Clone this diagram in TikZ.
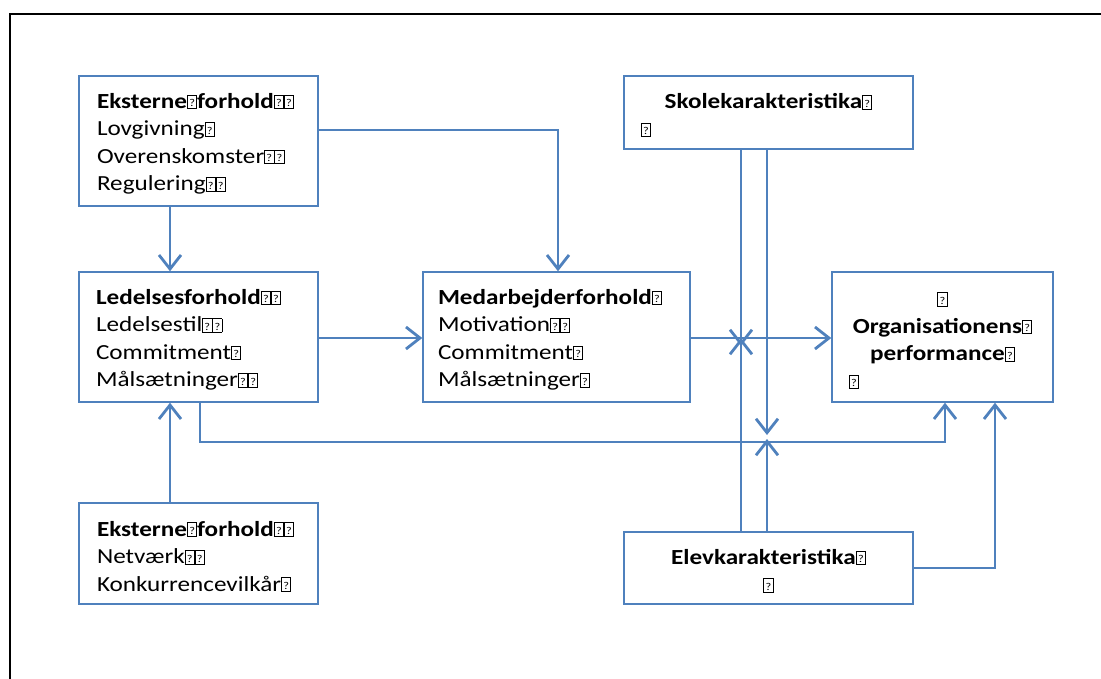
\documentclass[tikz,border=0pt]{standalone}
\usepackage{fontspec}
\setmainfont{Carlito}[FakeStretch=1.17]
\usetikzlibrary{arrows.meta}
\definecolor{boxblue}{HTML}{4F81BD}
\newcommand\qq{{\setlength\fboxsep{0pt}\setlength\fboxrule{0.8pt}\fbox{\makebox[8.5pt]{\rule{0pt}{13pt}\raisebox{1.5pt}{\fontsize{10.5}{10}\selectfont\mdseries ?}}}}}
\newcommand\tp{\rule{0pt}{21pt}}
\begin{document}
\begin{tikzpicture}[x=1pt,y=-1pt,
  box/.style={draw=boxblue,line width=1.5pt,fill=white,inner ysep=0pt,
    font=\fontsize{21.5}{27.5}\selectfont,align=left},
  arr/.style={draw=boxblue,line width=2.8pt,-{Straight Barb[length=14pt,width=22pt]}}]
\useasboundingbox (0,0) rectangle (1101,679);
\fill[white] (0,0) rectangle (1101,679);
\draw[line width=2.2pt] (10,700) -- (10,14) -- (1120,14);

\node[box,minimum width=239pt,minimum height=130pt,inner xsep=18pt,text width=203pt] (E1) at (198.5,141)
 {\tp\textbf{Eksterne\qq forhold\qq\qq}\\Lovgivning\qq\\Overenskomster\qq\qq\\Regulering\qq\qq};
\node[box,minimum width=239pt,minimum height=130pt,inner xsep=17pt,text width=205pt] (L) at (198.5,337)
 {\tp\textbf{Ledelsesforhold\qq\qq}\\Ledelsestil\qq\qq\\Commitment\qq\\Målsætninger\qq\qq};
\node[box,minimum width=267pt,minimum height=130pt,inner xsep=15pt,text width=237pt] (M) at (556.5,337)
 {\tp\textbf{Medarbejderforhold\qq}\\Motivation\qq\qq\\Commitment\qq\\Målsætninger\qq};
\node[box,minimum width=289pt,minimum height=73pt,inner xsep=17pt,text width=255pt] (S) at (768.5,112.5)
 {\tp\hspace*{\fill}\textbf{Skolekarakteristika\qq}\hspace*{\fill}\null\\\qq};
\node[box,minimum width=221pt,minimum height=130pt,inner xsep=17pt,text width=187pt] (O) at (942.5,337)
 {\tp\hspace*{\fill}\qq\hspace*{\fill}\null\\\hspace*{\fill}\textbf{Organisationens\qq}\hspace*{\fill}\null\\\hspace*{\fill}\textbf{performance\qq}\hspace*{\fill}\null\\\qq};
\node[box,minimum width=289pt,minimum height=72pt,inner xsep=17pt,text width=255pt] (Ev) at (768.5,568)
 {\tp\hspace*{\fill}\textbf{Elevkarakteristika\qq}\hspace*{\fill}\null\\\hspace*{\fill}\qq\hspace*{\fill}\null};
\node[box,minimum width=239pt,minimum height=101pt,inner xsep=18pt,text width=203pt] (E2) at (198.5,553.5)
 {\tp\textbf{Eksterne\qq forhold\qq\qq}\\Netværk\qq\qq\\Konkurrencevilkår\qq};

\coordinate (c1) at (170,0);
\coordinate (c2) at (200,0);
\coordinate (c3) at (558,0);
\coordinate (c4) at (741,0);
\coordinate (c5) at (767,0);
\coordinate (c6) at (945,0);
\coordinate (c7) at (995,0);
\coordinate (r1) at (0,130);
\coordinate (r2) at (0,338);
\coordinate (r3) at (0,442);
\coordinate (r4) at (0,568);
\coordinate (xa) at (741,346);
\coordinate (xb) at (741,338);
\coordinate (xc) at (767,435);
\coordinate (xd) at (767,439);

\draw[arr] (E1.south -| c1) -- (L.north -| c1);
\draw[arr] (E1.east |- r1) -| (M.north -| c3);
\draw[arr] (L.east |- r2) -- (M.west |- r2);
\draw[arr] (M.east |- r2) -- (O.west |- r2);
\draw[arr] (L.south -| c2) |- (r3 -| c6) -- (O.south -| c6);
\draw[arr] (E2.north -| c1) -- (L.south -| c1);
\draw[arr] (Ev.east |- r4) -| (O.south -| c7);
\draw[arr] (S.south -| c4) -- (xa);
\draw[arr] (Ev.north -| c4) -- (xb);
\draw[arr] (S.south -| c5) -- (xc);
\draw[arr] (Ev.north -| c5) -- (xd);
\end{tikzpicture}
\end{document}
